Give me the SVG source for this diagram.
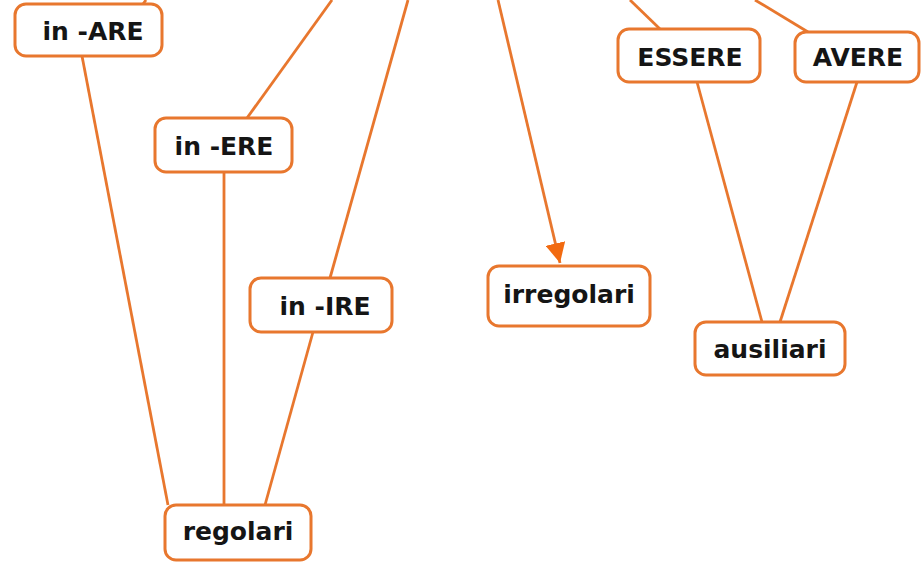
<svg xmlns="http://www.w3.org/2000/svg" width="921" height="564" viewBox="0 0 921 564">
<style>
.box{fill:#fff;stroke:#E8772E;stroke-width:3}
.lbl{font-family:"DejaVu Sans","Verdana",sans-serif;font-weight:bold;font-size:25px;fill:#151515;text-anchor:middle}
.ln{stroke:#E8772E;stroke-width:2.8;fill:none}
</style>
<defs>
<marker id="arrow" viewBox="0 0 20 20" refX="20" refY="10" markerWidth="20" markerHeight="20" markerUnits="userSpaceOnUse" orient="auto">
<path d="M0,0 L20,10 L0,20 z" fill="#F26A10"/>
</marker>
</defs>
<g id="connectors">
<line class="ln" x1="146" y1="0" x2="143" y2="4"/>
<line class="ln" x1="332" y1="0" x2="247" y2="118"/>
<line class="ln" x1="408" y1="0" x2="330" y2="278"/>
<line class="ln" x1="498" y1="0" x2="560" y2="263" marker-end="url(#arrow)"/>
<line class="ln" x1="630" y1="0" x2="660" y2="29"/>
<line class="ln" x1="755" y1="0" x2="808" y2="32"/>
<line class="ln" x1="82" y1="56" x2="168" y2="505"/>
<line class="ln" x1="224" y1="172" x2="224" y2="505"/>
<line class="ln" x1="313" y1="332" x2="265" y2="505"/>
<line class="ln" x1="697" y1="82" x2="762" y2="322"/>
<line class="ln" x1="857" y1="82" x2="780" y2="322"/>
</g>
<g id="in-ARE">
<rect class="box" x="15" y="4" width="147" height="52" rx="11"/>
<text class="lbl" x="93" y="40">in -ARE</text>
</g>
<g id="in-ERE">
<rect class="box" x="155" y="118" width="137" height="54" rx="11"/>
<text class="lbl" x="224" y="155">in -ERE</text>
</g>
<g id="in-IRE">
<rect class="box" x="250" y="278" width="142" height="54" rx="11"/>
<text class="lbl" x="325" y="315">in -IRE</text>
</g>
<g id="irregolari">
<rect class="box" x="488" y="266" width="162" height="60" rx="11"/>
<text class="lbl" x="569" y="303">irregolari</text>
</g>
<g id="ESSERE">
<rect class="box" x="618" y="29" width="142" height="53" rx="11"/>
<text class="lbl" x="690" y="66">ESSERE</text>
</g>
<g id="AVERE">
<rect class="box" x="795" y="32" width="124" height="50" rx="11"/>
<text class="lbl" x="858" y="66">AVERE</text>
</g>
<g id="ausiliari">
<rect class="box" x="695" y="322" width="150" height="53" rx="11"/>
<text class="lbl" x="770" y="358">ausiliari</text>
</g>
<g id="regolari">
<rect class="box" x="165" y="505" width="146" height="55" rx="11"/>
<text class="lbl" x="238" y="540">regolari</text>
</g>
</svg>
